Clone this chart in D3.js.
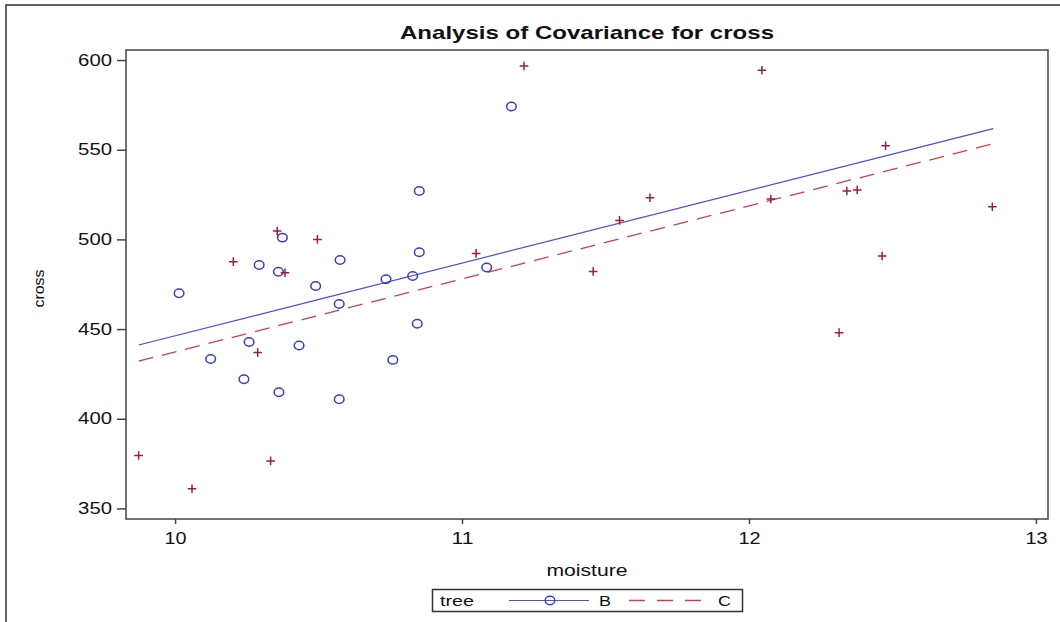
<!DOCTYPE html>
<html>
<head>
<meta charset="utf-8">
<script src="https://cdn.jsdelivr.net/npm/d3@7"></script>
<style>
  html, body { margin: 0; padding: 0; background: #fff; }
  svg { display: block; }
  text { font-family: "Liberation Sans", Arial, sans-serif; fill: #111; }
</style>
</head>
<body>
<svg id="chart" width="1060" height="622"></svg>
<script>
// ---- data ----
const titleText = "Analysis of Covariance for cross";
const xLabel = "moisture";
const yLabel = "cross";
const legendTitle = "tree";
const groups = ["B", "C"];

const moistureB = [10.014, 10.124, 10.240, 10.258, 10.293, 10.360, 10.374, 10.362, 10.432, 10.490, 10.572, 10.572, 10.575, 10.735, 10.759, 10.828, 10.844, 10.851, 10.851, 11.086, 11.172];
const crossB    = [470.0, 433.3, 422.0, 442.8, 485.7, 482.0, 501.0, 414.8, 440.8, 474.0, 464.0, 410.9, 488.5, 477.8, 432.8, 479.6, 453.0, 527.0, 492.8, 484.3, 574.1];

const moistureC = [9.873, 10.059, 10.203, 10.288, 10.333, 10.356, 10.383, 10.496, 11.049, 11.216, 11.457, 11.549, 11.655, 12.045, 12.076, 12.314, 12.341, 12.377, 12.464, 12.476, 12.848];
const crossC    = [379.5, 361.0, 487.6, 436.9, 376.5, 504.7, 481.4, 500.0, 492.2, 596.7, 482.1, 510.6, 523.2, 594.3, 522.5, 448.0, 527.0, 527.5, 490.7, 552.2, 518.2];

const fitX = [9.873, 12.851];
const fitB = [441.1, 561.8];
const fitC = [432.1, 553.3];

const xTicks = [10, 11, 12, 13];
const yTicks = [350, 400, 450, 500, 550, 600];

// ---- layout ----
const svg = d3.select("#chart");
const plot = { left: 126, right: 1048, top: 50, bottom: 519 };
const blue = "#3a3ac4", blueLine = "#4b4be0";
const red = "#9e1e3a", redLine = "#c8404e";
const dash = "15,9";
const legendDash = "16,12";

const x = d3.scaleLinear().domain([9.829, 13.042]).range([plot.left, plot.right]);
const y = d3.scaleLinear().domain([344.1, 605.6]).range([plot.bottom, plot.top]);

// stretch text horizontally the way the SAS rendering does
function wide(sel, perChar) {
  sel.each(function () {
    const t = d3.select(this);
    const n = t.text().length;
    t.attr("textLength", n * perChar).attr("lengthAdjust", "spacingAndGlyphs");
  });
}

// outer frame (extends past the image on right/bottom)
svg.append("rect").attr("x", 6).attr("y", 5).attr("width", 1100).attr("height", 700)
  .attr("fill", "none").attr("stroke", "#333").attr("stroke-width", 1.5);

// title
svg.append("text").attr("x", (plot.left + plot.right) / 2).attr("y", 39)
  .attr("text-anchor", "middle").style("font-size", "19px").style("font-weight", "bold")
  .attr("textLength", 374).attr("lengthAdjust", "spacingAndGlyphs").text(titleText);

// plot frame
svg.append("rect").attr("x", plot.left).attr("y", plot.top)
  .attr("width", plot.right - plot.left).attr("height", plot.bottom - plot.top)
  .attr("fill", "none").attr("stroke", "#444").attr("stroke-width", 1.5);

// axes
const xAxis = d3.axisBottom(x).tickValues(xTicks).tickSize(5).tickPadding(9).tickFormat(d3.format("d"));
const gx = svg.append("g").attr("transform", `translate(0,${plot.bottom})`).call(xAxis);
gx.select(".domain").remove();
gx.selectAll(".tick line").attr("stroke", "#444").attr("stroke-width", 1.5);
gx.selectAll(".tick text").style("font-size", "16px").attr("fill", "#111").call(wide, 11);

const yAxis = d3.axisLeft(y).tickValues(yTicks).tickSize(9).tickPadding(5).tickFormat(d3.format("d"));
const gy = svg.append("g").attr("transform", `translate(${plot.left},0)`).call(yAxis);
gy.select(".domain").remove();
gy.selectAll(".tick line").attr("stroke", "#444").attr("stroke-width", 1.5);
gy.selectAll(".tick text").style("font-size", "16px").attr("fill", "#111").call(wide, 11.3);

// axis labels
svg.append("text").attr("x", (plot.left + plot.right) / 2).attr("y", 576)
  .attr("text-anchor", "middle").style("font-size", "16px")
  .attr("textLength", 81).attr("lengthAdjust", "spacingAndGlyphs").text(xLabel);
svg.append("text").attr("transform", `translate(44,${(plot.top + plot.bottom) / 2 + 4}) rotate(-90)`)
  .attr("text-anchor", "middle").style("font-size", "15px")
  .attr("textLength", 38).attr("lengthAdjust", "spacingAndGlyphs").text(yLabel);

// fit lines
const line = d3.line().x(d => x(d[0])).y(d => y(d[1]));
svg.append("path").datum(d3.zip(fitX, fitB)).attr("d", line)
  .attr("fill", "none").attr("stroke", blueLine).attr("stroke-width", 1.2);
svg.append("path").datum(d3.zip(fitX, fitC)).attr("d", line)
  .attr("fill", "none").attr("stroke", redLine).attr("stroke-width", 1.3)
  .attr("stroke-dasharray", dash);

// points B: circles
svg.append("g").selectAll("ellipse").data(d3.zip(moistureB, crossB)).join("ellipse")
  .attr("cx", d => x(d[0])).attr("cy", d => y(d[1])).attr("rx", 4.8).attr("ry", 4.2)
  .attr("fill", "none").attr("stroke", blue).attr("stroke-width", 1.5);

// points C: plus signs
const plusPath = "M-4.3,0H4.3M0,-4.3V4.3";
svg.append("g").selectAll("path").data(d3.zip(moistureC, crossC)).join("path")
  .attr("transform", d => `translate(${x(d[0])},${y(d[1])})`)
  .attr("d", plusPath).attr("fill", "none").attr("stroke", red).attr("stroke-width", 1.5);

// legend
const lg = svg.append("g");
lg.append("rect").attr("x", 432.5).attr("y", 589.5).attr("width", 310).attr("height", 22)
  .attr("fill", "#fff").attr("stroke", "#333").attr("stroke-width", 1.5);
lg.append("text").attr("x", 440).attr("y", 606).style("font-size", "15px")
  .attr("textLength", 34).attr("lengthAdjust", "spacingAndGlyphs").text(legendTitle);
lg.append("line").attr("x1", 509).attr("x2", 589).attr("y1", 600.5).attr("y2", 600.5)
  .attr("stroke", blueLine).attr("stroke-width", 1.2);
lg.append("ellipse").attr("cx", 550).attr("cy", 600.5).attr("rx", 4.8).attr("ry", 4.2)
  .attr("fill", "none").attr("stroke", blue).attr("stroke-width", 1.5);
lg.append("text").attr("x", 599).attr("y", 606).style("font-size", "15px")
  .attr("textLength", 12).attr("lengthAdjust", "spacingAndGlyphs").text(groups[0]);
lg.append("line").attr("x1", 629).attr("x2", 701).attr("y1", 600.5).attr("y2", 600.5)
  .attr("stroke", redLine).attr("stroke-width", 1.3).attr("stroke-dasharray", legendDash);
lg.append("text").attr("x", 718).attr("y", 606).style("font-size", "15px")
  .attr("textLength", 13).attr("lengthAdjust", "spacingAndGlyphs").text(groups[1]);
</script>
</body>
</html>
